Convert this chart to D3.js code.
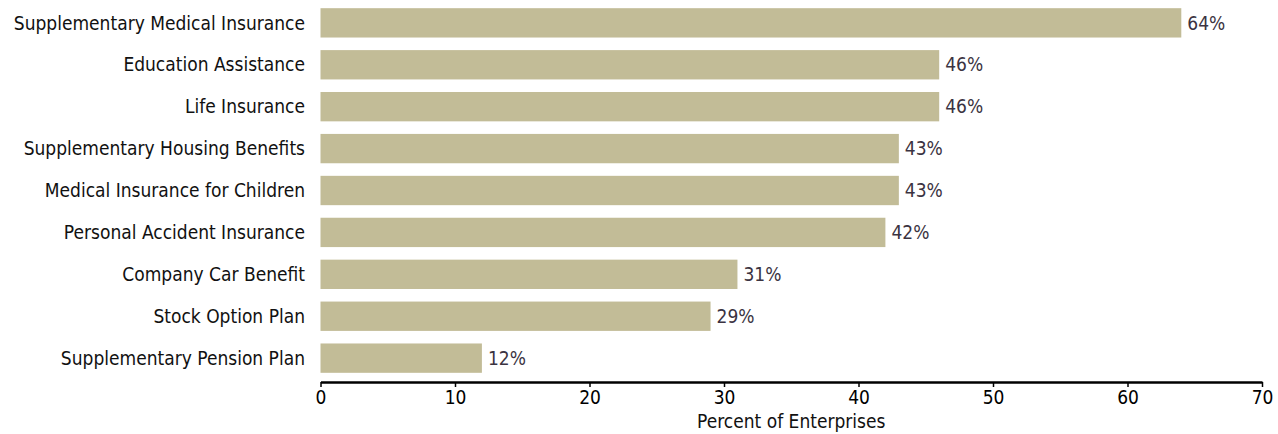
<!DOCTYPE html>
<html>
<head>
<meta charset="utf-8">
<script src="https://cdn.jsdelivr.net/npm/d3@7"></script>
<style>
  body { margin: 0; background: #fff; }
  text { font-family: "DejaVu Sans Condensed", "Liberation Sans Narrow", sans-serif; }
</style>
</head>
<body>
<script>
var w = 1278;
var h = 434;

var benefits = [
  "Supplementary Medical Insurance",
  "Education Assistance",
  "Life Insurance",
  "Supplementary Housing Benefits",
  "Medical Insurance for Children",
  "Personal Accident Insurance",
  "Company Car Benefit",
  "Stock Option Plan",
  "Supplementary Pension Plan"
];
var percents = [64, 46, 46, 43, 43, 42, 31, 29, 12];
var ticks = [0, 10, 20, 30, 40, 50, 60, 70];

var fontSize = 19;
var margin = {top: 4, right: 16, bottom: 52, left: 320.5};

var svg = d3.select("body")
    .append("svg")
    .attr("width", w)
    .attr("height", h);

var x = d3.scaleLinear()
    .domain([0, 70])
    .range([margin.left, w - margin.right]);

var y = d3.scaleBand()
    .domain(benefits)
    .range([margin.top, 377])
    .paddingInner(0.3)
    .paddingOuter(0.1);

svg.append("g")
    .selectAll("rect")
    .data(percents)
    .enter().append("rect")
    .attr("x", x(0))
    .attr("y", function(d, i) { return y(benefits[i]); })
    .attr("width", function(d) { return x(d) - x(0); })
    .attr("height", y.bandwidth())
    .attr("fill", "#c2bc97");

// value labels
svg.append("g")
    .selectAll("text")
    .data(percents)
    .enter().append("text")
    .attr("x", function(d) { return x(d) + 6; })
    .attr("y", function(d, i) { return y(benefits[i]) + y.bandwidth() / 2; })
    .attr("dy", "0.35em")
    .attr("font-size", fontSize)
    .attr("fill", "#3b3341")
    .text(function(d) { return d + "%"; });

// category labels
svg.append("g")
    .selectAll("text")
    .data(benefits)
    .enter().append("text")
    .attr("x", 305)
    .attr("y", function(d) { return y(d) + y.bandwidth() / 2; })
    .attr("dy", "0.35em")
    .attr("text-anchor", "end")
    .attr("font-size", fontSize)
    .attr("fill", "#111")
    .text(function(d) { return d; });

var xAxis = svg.append("g")
    .attr("transform", "translate(0,382)")
    .call(d3.axisBottom(x).tickValues(ticks).tickSize(5).tickSizeOuter(0).tickPadding(4));

xAxis.select(".domain").attr("stroke", "#000").attr("stroke-width", 2.5);
xAxis.selectAll(".tick line").attr("stroke", "#000").attr("stroke-width", 1.5);
xAxis.selectAll(".tick text")
    .attr("font-size", fontSize)
    .attr("fill", "#000")
    .style("font-family", "'DejaVu Sans Condensed', 'Liberation Sans Narrow', sans-serif");

svg.append("text")
    .attr("x", (x(0) + x(70)) / 2)
    .attr("y", 428)
    .attr("text-anchor", "middle")
    .attr("font-size", fontSize)
    .attr("fill", "#111")
    .text("Percent of Enterprises");
</script>
</body>
</html>
